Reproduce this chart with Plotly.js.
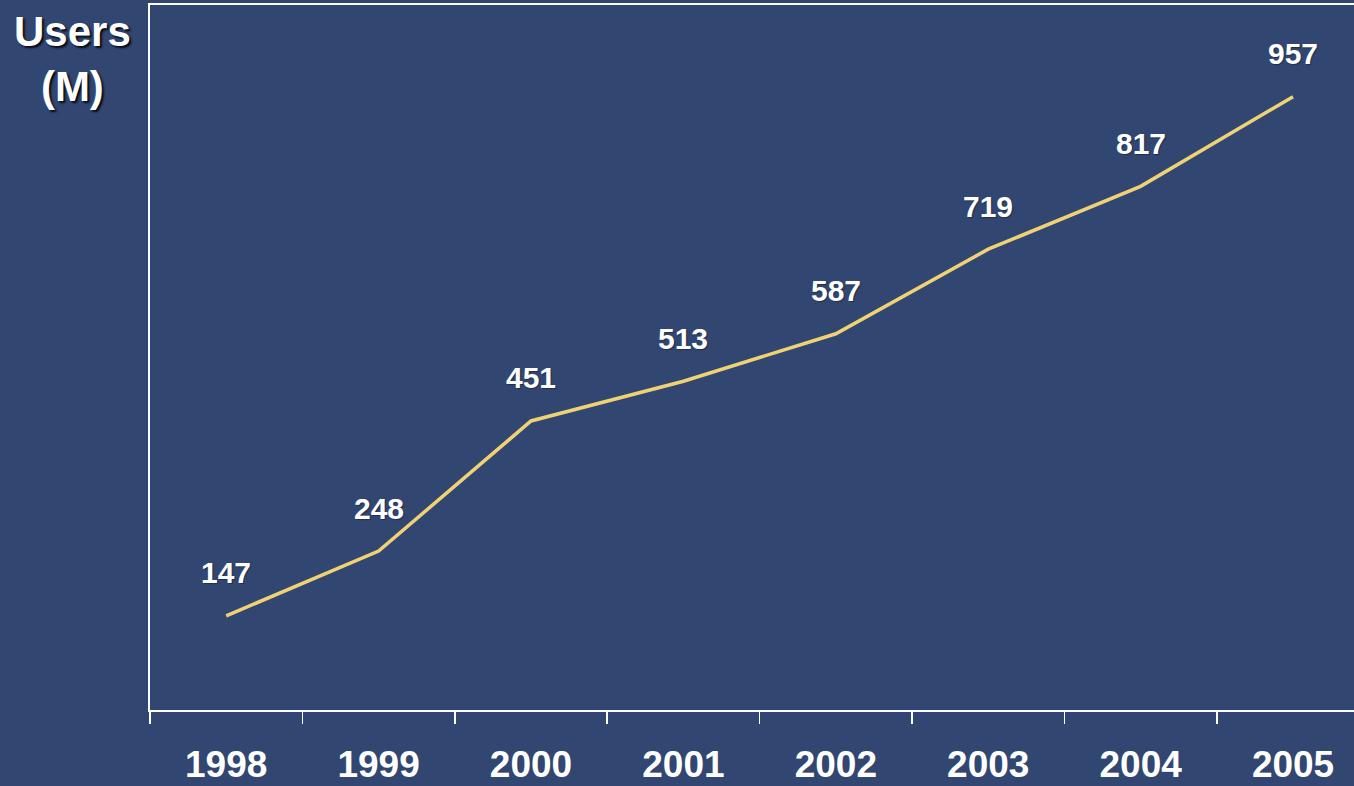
<!DOCTYPE html>
<html>
<head>
<meta charset="utf-8">
<script src="https://cdn.plot.ly/plotly-3.0.1.min.js"></script>
<style>
  html, body { margin: 0; padding: 0; background: #314670; }
  #chart { width: 1354px; height: 786px; }
</style>
</head>
<body>
<div id="chart"></div>
<script>
const years = ["1998", "1999", "2000", "2001", "2002", "2003", "2004", "2005"];
const users = [147, 248, 451, 513, 587, 719, 817, 957];
const yTitle = "Users<br>(M)";

const FONT = "Liberation Sans, Arial, Helvetica, sans-serif";

const trace = {
  type: "scatter",
  mode: "lines",
  x: years,
  y: users,
  line: { color: "#F0D274", width: 3.5 },
  hoverinfo: "x+y"
};

const labels = years.map((yr, i) => ({
  x: i,
  y: users[i],
  xref: "x",
  yref: "y",
  text: String(users[i]),
  showarrow: false,
  yshift: 43,
  font: { family: FONT, size: 30, color: "#ffffff", weight: "bold", shadow: "1px 1px 1px rgba(0,0,0,0.35)" }
}));

labels.push({
  xref: "paper",
  yref: "paper",
  x: (72 - 150) / 1204,
  y: 1,
  xanchor: "center",
  yanchor: "top",
  yshift: -1,
  text: yTitle,
  showarrow: false,
  align: "center",
  font: { family: FONT, size: 42, color: "#ffffff", weight: "bold", shadow: "2px 2px 2px rgba(0,0,0,0.85)" }
});

const layout = {
  width: 1354,
  height: 786,
  margin: { l: 150, r: 0, t: 5, b: 76, pad: 0 },
  paper_bgcolor: "#314670",
  plot_bgcolor: "rgba(0,0,0,0)",
  showlegend: false,
  xaxis: {
    type: "category",
    range: [-0.5, 7.4],
    tickson: "boundaries",
    ticks: "outside",
    ticklen: 12,
    tickwidth: 1.5,
    tickcolor: "#ffffff",
    showline: true,
    linecolor: "#ffffff",
    linewidth: 2,
    mirror: true,
    showgrid: false,
    zeroline: false,
    tickfont: { family: FONT, size: 37, color: "#ffffff", weight: "bold" },
    ticklabelstandoff: 21,
    fixedrange: true
  },
  yaxis: {
    range: [0, 1100],
    showline: true,
    linecolor: "#ffffff",
    linewidth: 2,
    showticklabels: false,
    ticks: "",
    showgrid: false,
    zeroline: false,
    fixedrange: true
  },
  annotations: labels
};

Plotly.newPlot("chart", [trace], layout, { displayModeBar: false, staticPlot: true });
</script>
</body>
</html>
